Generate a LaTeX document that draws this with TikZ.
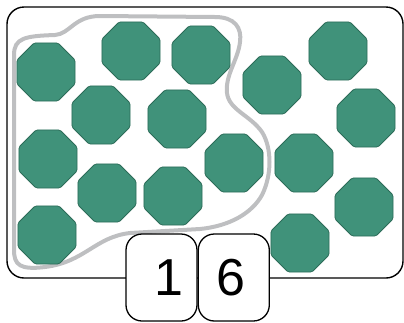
\documentclass[tikz,border=0pt]{standalone}
\usepackage{fontspec}
\usepackage{tikz}
\usetikzlibrary{positioning,shapes.geometric}
\setmainfont{Liberation Sans}
\definecolor{tilegreen}{RGB}{64,146,122}
\definecolor{tileedge}{RGB}{44,108,88}
\definecolor{lassogray}{RGB}{190,191,193}
\tikzset{
  tile/.style={regular polygon, regular polygon sides=8, minimum size=62.8pt, inner sep=0pt,
    fill=tilegreen, draw=tileedge, line width=0.8pt, rounded corners=1.5pt},
  digitbox/.style={draw, line width=1.3pt, fill=white, rounded corners=16pt,
    minimum width=71pt, minimum height=87pt, inner sep=0pt},
  digit/.style={inner sep=0pt, font=\fontsize{52}{52}\selectfont},
  lasso/.style={draw=lassogray, line width=4pt}
}

\begin{document}
\begin{tikzpicture}[x=1pt,y=-1pt]
  \useasboundingbox (0,0) rectangle (404,322);
  \draw[line width=1.4pt, rounded corners=17pt] (7,7) rectangle (403,278);
  \draw[lasso] (14,250) -- (14,55) .. controls (14,38) and (25,36) .. (55,35)
    .. controls (70,34) and (74,16) .. (100,16) -- (215,17)
    .. controls (235,17) and (242,28) .. (240,42)
    .. controls (238,60) and (225,75) .. (227,93)
    .. controls (229,110) and (250,115) .. (262,132)
    .. controls (272,148) and (272,175) .. (262,195)
    .. controls (252,213) and (230,226) .. (200,229)
    -- (130,233) .. controls (95,237) and (85,262) .. (45,267)
    .. controls (20,270) and (14,265) .. (14,250) -- cycle;
  \foreach \n/\x/\y in {1/46/72, 2/131/51, 3/201/55, 4/272/85, 5/338/51, 6/101/115,
      7/177/119, 8/48/159, 9/234/163, 10/304/163, 11/366/118, 12/107/193,
      13/173/196, 14/47/235, 15/300/243, 16/364/207}
    \node[tile] (t\n) at (\x,\y) {};
  \node[digitbox] (box1) at (161.5,277.5) {};
  \node[digitbox, right=0pt of box1] (box2) {};
  \node[digit] (one) at ([xshift=7pt]box1.center) {1};
  \node[digit] (six) at ([xshift=-3pt]box2.center) {6};
\end{tikzpicture}
\end{document}
